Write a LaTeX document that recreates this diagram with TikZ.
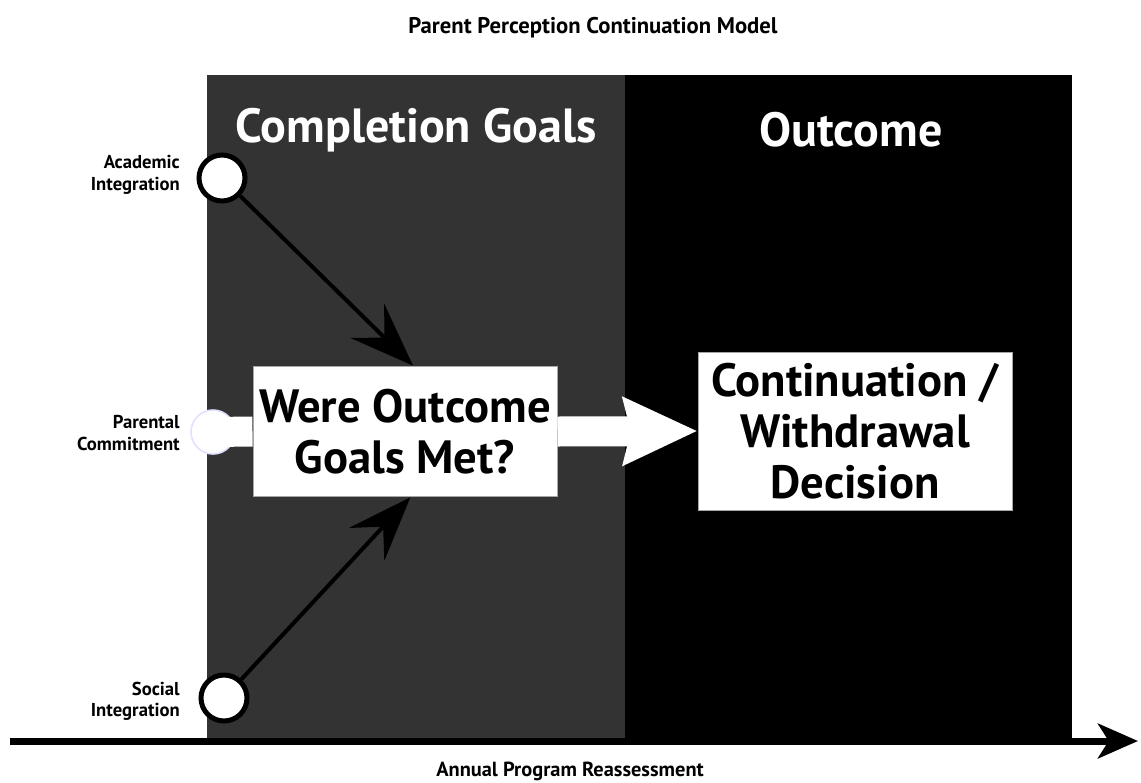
\documentclass[tikz,border=0pt]{standalone}
\usepackage{fontspec}
\setmainfont{PT Sans}
\usetikzlibrary{arrows.meta,positioning}

\definecolor{panelgray}{HTML}{333333}

\tikzset{
  factor/.style={circle, draw=black, fill=white, line width=3.75pt, minimum size=34.5pt, inner sep=0pt},
  factorlabel/.style={anchor=east, align=right, inner sep=0pt, font=\bfseries\fontsize{14}{16}\selectfont},
  header/.style={text=white, font=\bfseries\fontsize{36}{42}\selectfont},
  bigbox/.style={draw=gray!70, line width=0.75pt, fill=white, align=center, inner sep=0pt,
    font=\bfseries\fontsize{35}{38.5}\selectfont},
  link/.style={line width=3pt, -{Stealth[length=48pt, width=36pt, inset=18pt]}},
}

\begin{document}
\begin{tikzpicture}[x=0.75pt, y=-0.75pt]
\useasboundingbox (0,0) rectangle (1141,782);

% Panels
\fill[panelgray] (207,75) rectangle (625,738);
\fill[black] (625,75) rectangle (1072,738);
\node[header] (hgoals) at (416,130) {Completion Goals};
\node[header] (houtcome) at (851,130) {Outcome};

% Title and time line
\node[font=\bfseries\fontsize{17}{20}\selectfont] (title) at (593,28) {Parent Perception Continuation Model};
\coordinate (tstart) at (10,741);
\coordinate (tend) at (1138,741);
\draw[line width=5.25pt, -{Stealth[length=30pt, width=26pt, inset=8pt]}] (tstart) -- (tend);
\node[font=\bfseries\fontsize{15.3}{18}\selectfont] (time) at (570,771) {Annual Program Reassessment};

% Boxes
\node[bigbox, minimum width=228pt, minimum height=98pt] (goals) at (405,431.5) {Were Outcome\\Goals Met?};
\node[bigbox, minimum width=235.5pt, minimum height=118.5pt] (decision) at (855,431) {Continuation /\\Withdrawal\\Decision};
\draw[white, line width=22.5pt, -{Stealth[length=55pt, width=49pt, inset=5pt]}] (goals.east) -- (decision.west);

% Factors
\node[factor] (academic) at (222,178) {};
\node[factorlabel] (lacademic) at (180,175) {Academic\\Integration};
\draw[link] (academic) -- ([xshift=6pt]goals.north);

\node[factor] (social) at (224,698) {};
\node[factorlabel] (lsocial) at (180,701) {Social\\Integration};
\draw[link] (social) -- ([xshift=4pt]goals.south);

\node[circle, fill=white, draw=blue!12, line width=1.2pt, minimum size=33pt, inner sep=0pt] (parent) at (213,432) {};
\draw[white, line width=22.5pt] (parent.center) -- (goals.west);
\node[factorlabel] (lparent) at (180,433) {Parental\\Commitment};
\end{tikzpicture}
\end{document}
